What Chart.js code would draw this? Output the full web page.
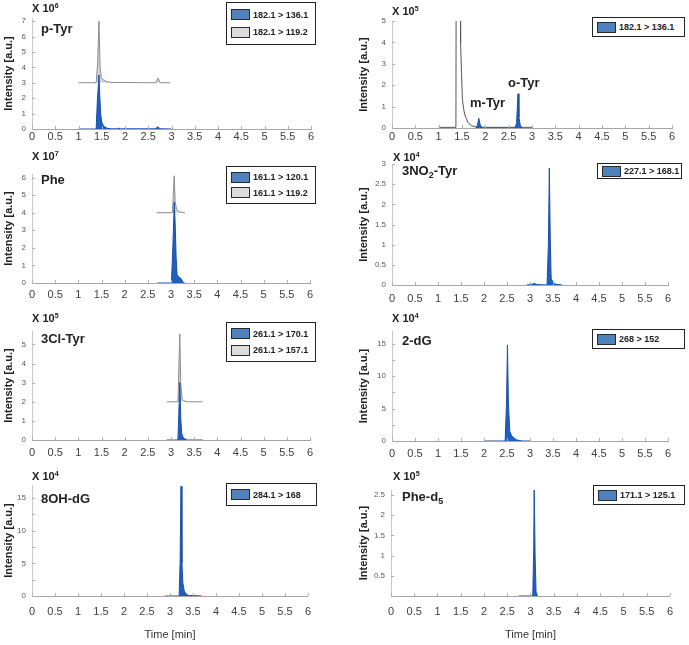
<!DOCTYPE html>
<html>
<head>
<meta charset="utf-8">
<script src="https://cdn.jsdelivr.net/npm/chart.js@4.4.0/dist/chart.umd.min.js"></script>
<style>
  body { margin: 0; background: #fff; width: 689px; height: 645px; position: relative; overflow: hidden; font-family: Arial, "Liberation Sans", sans-serif; }
  canvas { position: absolute; }
  .exp { position: absolute; font-weight: bold; font-size: 11px; color: #222; line-height: 1; white-space: nowrap; }
  .exp sup { font-size: 7px; vertical-align: 4px; line-height: 0; }
  .name { position: absolute; font-weight: bold; font-size: 13px; color: #222; line-height: 1; white-space: nowrap; }
  .name sub { font-size: 9px; vertical-align: -3px; line-height: 0; }
  .legend { position: absolute; border: 1px solid #222; background: #fff; box-sizing: border-box; display: flex; flex-direction: column; justify-content: space-evenly; padding-left: 4px; }
  .item { display: flex; align-items: center; font-size: 9px; font-weight: bold; color: #222; white-space: nowrap; }
  .sw { width: 19px; height: 11px; border: 1px solid #2a2a2a; margin-right: 3px; box-sizing: border-box; }
</style>
</head>
<body>
<script>
// time axis (min)
const xTickValues = [0, 0.5, 1, 1.5, 2, 2.5, 3, 3.5, 4, 4.5, 5, 5.5, 6];

// p-Tyr, x10^6
const pTyrTimeA = [1.0, 1.38, 1.405, 1.44, 1.46, 1.48, 1.50, 1.53, 1.57, 1.62, 1.70, 1.84, 1.87, 1.90, 2.65, 2.71, 2.75, 2.80, 3.0];
const pTyr136 = [0, 0, 1.8, 3.5, 2.0, 0.9, 0.45, 0.25, 0.12, 0.04, 0.01, 0.01, 0.06, 0.01, 0.01, 0.15, 0.02, 0.01, 0];
const pTyrTimeB = [1.0, 1.38, 1.41, 1.44, 1.465, 1.49, 1.53, 1.60, 1.70, 2.66, 2.71, 2.76, 2.97];
const pTyr119 = [3.0, 3.0, 4.2, 7.0, 4.0, 3.35, 3.2, 3.08, 3.02, 3.0, 3.3, 3.0, 3.0];

// m-Tyr / o-Tyr, x10^5
const mTyrTimeLine = [1.0, 1.37, 1.375, 1.46, 1.47, 1.49, 1.51, 1.55, 1.58, 1.63, 1.71, 1.80, 2.0, 2.5, 3.0];
const mTyrLine = [0.03, 0.03, 8, 8, 4, 2.5, 1.3, 0.7, 0.5, 0.25, 0.1, 0.05, 0.03, 0.03, 0.03];
const mTyrTimeA = [1.80, 1.83, 1.86, 1.89, 1.93, 2.64, 2.67, 2.70, 2.72, 2.75, 2.80];
const mTyr136 = [0, 0.12, 0.45, 0.15, 0, 0, 0.25, 1.6, 0.5, 0.1, 0];

// Phe, x10^7
const pheTimeA = [2.7, 3.01, 3.04, 3.07, 3.09, 3.11, 3.13, 3.16, 3.20, 3.24, 3.27, 3.3];
const phe120 = [0, 0, 2.0, 4.6, 3.4, 1.5, 0.5, 0.35, 0.3, 0.15, 0, 0];
const pheTimeB = [2.69, 3.03, 3.05, 3.07, 3.09, 3.12, 3.16, 3.22, 3.30];
const phe119 = [4, 4, 5.0, 6.1, 4.6, 4.2, 4.08, 4.02, 4.0];

// 3NO2-Tyr, x10^4
const no2TimeA = [2.93, 3.05, 3.1, 3.15, 3.37, 3.40, 3.42, 3.44, 3.46, 3.5, 3.55, 3.7];
const no2Tyr168 = [0, 0.02, 0.04, 0.01, 0, 1.0, 2.9, 1.2, 0.15, 0.08, 0.02, 0];

// 3Cl-Tyr, x10^5
const clTimeA = [2.91, 3.15, 3.17, 3.19, 3.21, 3.23, 3.26, 3.30, 3.35, 3.68];
const clTyr170 = [0, 0, 1.5, 3.0, 1.2, 0.35, 0.15, 0.05, 0, 0];
const clTimeB = [2.91, 3.15, 3.17, 3.19, 3.21, 3.24, 3.28, 3.35, 3.68];
const clTyr157 = [2, 2, 3.8, 5.55, 3.0, 2.15, 2.05, 2.0, 2.0];

// 2-dG, x10^4
const dgTimeA = [2.0, 2.46, 2.49, 2.51, 2.53, 2.56, 2.60, 2.65, 2.70, 2.78, 2.85, 3.0];
const dg152 = [0, 0, 6, 14.85, 6, 1.5, 0.8, 0.5, 0.2, 0.05, 0, 0];

// 8OH-dG, x10^4
const ohdgTimeA = [2.89, 3.20, 3.22, 3.24, 3.26, 3.28, 3.31, 3.35, 3.40, 3.69];
const ohdg168 = [0, 0, 5, 16.8, 5, 2, 0.8, 0.3, 0.1, 0];

// Phe-d5, x10^5
const phed5TimeA = [2.75, 3.05, 3.07, 3.08, 3.10, 3.12, 3.15];
const phed5125 = [0, 0, 1.2, 2.62, 1.0, 0.1, 0];

const BLUE = '#1f5fc4';
const BLUE_LINE = '#1a4fa8';
const GRAY_FILL = '#d4d4d4';
const GRAY_LINE = '#8c8c8c';
const SW_BLUE = '#4f81bd';
const SW_GRAY = '#dcdcdc';

function pts(xs, ys) {
    return xs.map((x, i) => ({ x: x, y: ys[i] }));
}

function blueSet(xs, ys) {
    return { data: pts(xs, ys), borderColor: BLUE_LINE, borderWidth: 1, backgroundColor: BLUE, fill: 'origin', pointRadius: 0, order: 0 };
}

function graySet(xs, ys, base) {
    return { data: pts(xs, ys), borderColor: GRAY_LINE, borderWidth: 1, backgroundColor: GRAY_FILL, fill: { value: base }, pointRadius: 0, order: 1 };
}

const panels = [
    {
        area: { l: 32, r: 311, t: 18, b: 129 }, side: 0, max: 7.2, tickPad: 1.4,
        yTicks: [0, 1, 2, 3, 4, 5, 6, 7], yLabels: [0, 1, 2, 3, 4, 5, 6, 7],
        exp: { text: 'X 10<sup>6</sup>', x: 32, y: 8 },
        names: [{ text: 'p-Tyr', x: 41, y: 28 }],
        legend: { l: 226, t: 2, w: 90, h: 43, items: [['182.1 > 136.1', SW_BLUE], ['182.1 > 119.2', SW_GRAY]] },
        datasets: [blueSet(pTyrTimeA, pTyr136), graySet(pTyrTimeB, pTyr119, 3)]
    },
    {
        area: { l: 392, r: 672, t: 21, b: 128 }, side: 1, max: 5, tickPad: 2.4,
        yTicks: [0, 1, 2, 3, 4, 5], yLabels: [0, 1, 2, 3, 4, 5],
        exp: { text: 'X 10<sup>5</sup>', x: 392, y: 11 },
        names: [{ text: 'm-Tyr', x: 470, y: 102 }, { text: 'o-Tyr', x: 508, y: 82 }],
        legend: { l: 592, t: 17, w: 93, h: 20, items: [['182.1 > 136.1', SW_BLUE]] },
        datasets: [blueSet(mTyrTimeA, mTyr136),
            { data: pts(mTyrTimeLine, mTyrLine), borderColor: '#555', borderWidth: 1, fill: false, pointRadius: 0, order: 1 }]
    },
    {
        area: { l: 32, r: 310, t: 173.5, b: 282 }, side: 0, max: 6.2, tickPad: 5.4,
        yTicks: [0, 1, 2, 3, 4, 5, 6], yLabels: [0, 1, 2, 3, 4, 5, 6],
        exp: { text: 'X 10<sup>7</sup>', x: 32, y: 156 },
        names: [{ text: 'Phe', x: 41, y: 179 }],
        legend: { l: 226, t: 166, w: 90, h: 38, items: [['161.1 > 120.1', SW_BLUE], ['161.1 > 119.2', SW_GRAY]] },
        datasets: [blueSet(pheTimeA, phe120), graySet(pheTimeB, phe119, 4)]
    },
    {
        area: { l: 392, r: 668, t: 164, b: 285 }, side: 1, max: 3, tickPad: 7.4,
        yTicks: [0, 0.5, 1, 1.5, 2, 2.5, 3], yLabels: [0, 0.5, 1, 1.5, 2, 2.5, 3],
        exp: { text: 'X 10<sup>4</sup>', x: 393, y: 157 },
        names: [{ text: '3NO<sub>2</sub>-Tyr', x: 402, y: 170 }],
        legend: { l: 597, t: 163, w: 85, h: 16, items: [['227.1 > 168.1', SW_BLUE]] },
        datasets: [blueSet(no2TimeA, no2Tyr168)]
    },
    {
        area: { l: 32, r: 310, t: 330.6, b: 440 }, side: 0, max: 5.7, tickPad: 6.4,
        yTicks: [0, 1, 2, 3, 4, 5], yLabels: [0, 1, 2, 3, 4, 5],
        exp: { text: 'X 10<sup>5</sup>', x: 32, y: 318 },
        names: [{ text: '3Cl-Tyr', x: 41, y: 338 }],
        legend: { l: 226, t: 322, w: 90, h: 40, items: [['261.1 > 170.1', SW_BLUE], ['261.1 > 157.1', SW_GRAY]] },
        datasets: [blueSet(clTimeA, clTyr170), graySet(clTimeB, clTyr157, 2)]
    },
    {
        area: { l: 392, r: 668, t: 331, b: 441 }, side: 1, max: 17, tickPad: 6.4,
        yTicks: [0, 2.5, 5, 7.5, 10, 12.5, 15], yLabels: [0, 5, 10, 15],
        exp: { text: 'X 10<sup>4</sup>', x: 392, y: 318 },
        names: [{ text: '2-dG', x: 402, y: 340 }],
        legend: { l: 592, t: 329, w: 93, h: 20, items: [['268 > 152', SW_BLUE]] },
        datasets: [blueSet(dgTimeA, dg152)]
    },
    {
        area: { l: 32, r: 308, t: 485, b: 596 }, side: 0, max: 17, tickPad: 9, bottom: true,
        yTicks: [0, 2.5, 5, 7.5, 10, 12.5, 15], yLabels: [0, 5, 10, 15],
        exp: { text: 'X 10<sup>4</sup>', x: 32, y: 476 },
        names: [{ text: '8OH-dG', x: 41, y: 498 }],
        legend: { l: 226, t: 483, w: 91, h: 23, items: [['284.1 > 168', SW_BLUE]] },
        datasets: [blueSet(ohdgTimeA, ohdg168)]
    },
    {
        area: { l: 391, r: 670, t: 490, b: 596 }, side: 1, max: 2.62, tickPad: 9, bottom: true,
        yTicks: [0, 0.5, 1, 1.5, 2, 2.5], yLabels: [0.5, 1, 1.5, 2, 2.5],
        exp: { text: 'X 10<sup>5</sup>', x: 393, y: 476 },
        names: [{ text: 'Phe-d<sub>5</sub>', x: 402, y: 496 }],
        legend: { l: 593, t: 485, w: 92, h: 20, items: [['171.1 > 125.1', SW_BLUE]] },
        datasets: [blueSet(phed5TimeA, phed5125)]
    }
];

// small tick marks drawn inward from both axes
const innerTicks = {
    id: 'innerTicks',
    afterDraw(chart) {
        const { ctx, chartArea, scales } = chart;
        ctx.save();
        ctx.strokeStyle = '#b0b0b0';
        ctx.lineWidth = 1;
        ctx.beginPath();
        scales.x.ticks.forEach(t => {
            const px = Math.round(scales.x.getPixelForValue(t.value)) + 0.5;
            ctx.moveTo(px, chartArea.bottom);
            ctx.lineTo(px, chartArea.bottom - 3);
        });
        scales.y.ticks.forEach(t => {
            const py = Math.round(scales.y.getPixelForValue(t.value)) + 0.5;
            ctx.moveTo(chartArea.left, py);
            ctx.lineTo(chartArea.left + 3, py);
        });
        ctx.stroke();
        ctx.restore();
    }
};

function addDiv(cls, html, x, y) {
    const d = document.createElement('div');
    d.className = cls;
    d.innerHTML = html;
    d.style.left = x + 'px';
    d.style.top = y + 'px';
    document.body.appendChild(d);
    return d;
}

function addLegend(lg) {
    const box = document.createElement('div');
    box.className = 'legend';
    box.style.left = lg.l + 'px';
    box.style.top = lg.t + 'px';
    box.style.width = lg.w + 'px';
    box.style.height = lg.h + 'px';
    lg.items.forEach(([label, color]) => {
        const it = document.createElement('div');
        it.className = 'item';
        it.innerHTML = `<div class="sw" style="background:${color}"></div><span>${label}</span>`;
        box.appendChild(it);
    });
    document.body.appendChild(box);
}

function makePanel(p) {
    const a = p.area;
    const canvasLeft = p.side === 0 ? 0 : 345;
    // top padding must exceed the y axis label overhang (half label + tick padding)
    const padTop = 14, padRight = 12;
    const xH = p.bottom ? 645 - a.b : 26;
    const top = a.t - padTop;
    const w = Math.round(a.r + padRight - canvasLeft);
    const h = Math.round(a.b + xH - top);
    const yW = a.l - canvasLeft;

    const canvas = document.createElement('canvas');
    canvas.width = w;
    canvas.height = h;
    canvas.style.left = canvasLeft + 'px';
    canvas.style.top = top + 'px';
    document.body.appendChild(canvas);

    new Chart(canvas, {
        type: 'line',
        data: { datasets: p.datasets },
        plugins: [innerTicks],
        options: {
            responsive: false,
            animation: false,
            events: [],
            layout: { padding: { left: 0, top: padTop, right: padRight, bottom: 0 } },
            plugins: { legend: { display: false }, tooltip: { enabled: false } },
            scales: {
                x: {
                    type: 'linear', min: 0, max: 6,
                    afterBuildTicks: (s) => { s.ticks = xTickValues.map(v => ({ value: v })); },
                    afterFit: (s) => { s.height = xH; },
                    ticks: { autoSkip: false, maxRotation: 0, padding: p.tickPad, color: '#404040', font: { family: 'Arial', size: 11 }, callback: (v) => String(v) },
                    grid: { drawOnChartArea: false, drawTicks: false },
                    border: { color: '#a6a6a6' },
                    title: { display: !!p.bottom, text: 'Time [min]', color: '#333', font: { family: 'Arial', size: 11 }, padding: { top: 0, bottom: 3.4 } }
                },
                y: {
                    min: 0, max: p.max,
                    afterBuildTicks: (s) => { s.ticks = p.yTicks.map(v => ({ value: v })); },
                    afterFit: (s) => { s.width = yW; },
                    ticks: { padding: 6, color: '#595959', font: { family: 'Arial', size: 8 },
                        callback: (v) => p.yLabels.includes(v) ? String(v) : '' },
                    grid: { drawOnChartArea: false, drawTicks: false },
                    border: { color: '#c8c8c8' },
                    title: { display: true, text: 'Intensity [a.u.]', color: '#222', font: { family: 'Arial', size: 11, weight: 'bold' },
                        padding: { top: p.side === 0 ? 2.4 : 12.4, bottom: 0 } }
                }
            }
        }
    });

    addDiv('exp', p.exp.text, p.exp.x, p.exp.y - 5.5);
    p.names.forEach(n => addDiv('name', n.text, n.x, n.y - 6.5));
    addLegend(p.legend);
}

panels.forEach(makePanel);
</script>
</body>
</html>
